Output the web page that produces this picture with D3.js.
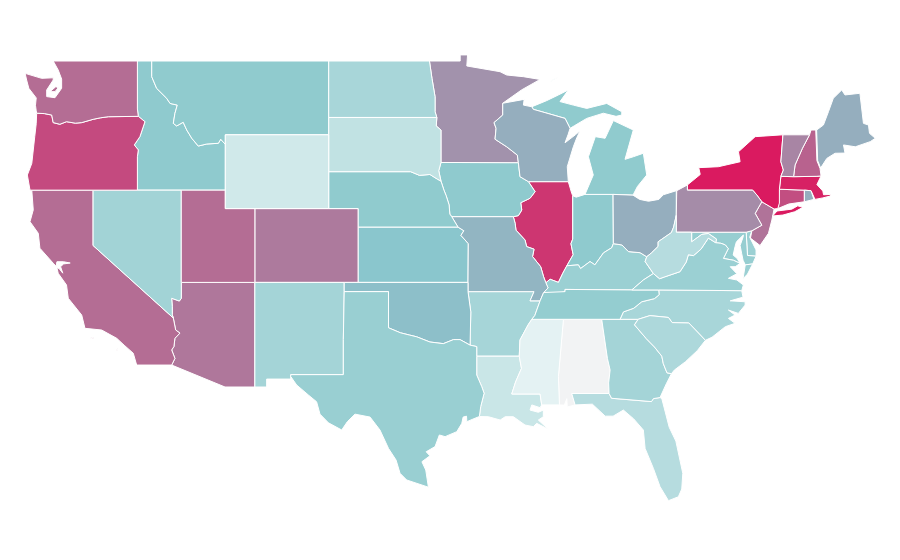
<!DOCTYPE html>
<html>
<head>
<meta charset="utf-8">
<title>US states</title>
<script src="https://cdn.jsdelivr.net/npm/d3@7"></script>
<style>
  html, body { margin: 0; padding: 0; background: #fff; }
  svg { display: block; }
  .state { stroke: #fff; stroke-width: 1; stroke-linejoin: round; }
</style>
</head>
<body>
<svg id="map" width="900" height="560"></svg>
<script>
// values, same order in both arrays
var stateNames = ['AL','AZ','AR','CA','CO','CT','DE','FL','GA','ID','IL','IN','IA','KS','KY','LA','ME','MD','MA','MI','MN','MS','MO','MT','NE','NV','NH','NJ','NM','NY','NC','ND','OH','OK','OR','PA','RI','SC','SD','TN','TX','UT','VT','VA','WA','WV','WI','WY'];
var stateValues = [0,73,36,76,72,85,41,29,37,47,92,47,47,50,41,20,57,43,98,46,65,8,55,46,46,38,79,74,37,100,35,35,57,52,86,67,57,33,24,44,42,76,69,41,76,29,57,17];

var colorStops = [0, 8, 46, 50, 100];
var colorRange = ['#f2f3f4', '#e4f2f3', '#90cbce', '#8ac6cd', '#da1a60'];

// shared borders, lon/lat
var columbia = [[-123.82,46.17],[-123.3,46.15],[-122.8,46.07],[-122.7,45.66],[-122.25,45.57],[-121.8,45.71],[-121.2,45.63],[-120.77,45.66],[-119.99,45.84],[-119.5,45.92],[-118.97,45.98],[-116.94,46.0]];
var snake = [[-116.94,46.0],[-116.49,45.71],[-116.83,44.9],[-117.21,44.45],[-116.94,44.18],[-117.0,43.81],[-117.0,42.0]];
var idMt = [[-116.03,49],[-116.03,48.15],[-115.7,47.52],[-115.02,46.98],[-114.79,46.7],[-114.3,46.61],[-114.46,46.16],[-114.57,45.62],[-114.34,45.48],[-113.9,45.68],[-113.66,45.26],[-113.32,44.81],[-112.88,44.39],[-112.31,44.5],[-111.52,44.54],[-111.36,44.76],[-111.05,44.48]];
var nvAz = [[-114.03,37],[-114.03,36.14],[-114.16,35.99],[-114.68,36.14],[-114.64,35.7],[-114.64,35.25],[-114.57,35.07]];
var caAz = [[-114.57,35.07],[-114.41,34.42],[-114.12,34.25],[-114.46,33.97],[-114.53,33.52],[-114.68,33.34],[-114.46,32.88],[-114.68,32.52]];
var redRiver = [[-100,34.54],[-99.2,34.27],[-98.6,34.15],[-98.09,34.05],[-97.2,33.77],[-96.29,33.68],[-95.6,33.9],[-95.16,33.9],[-94.48,33.6],[-94.03,33.52]];
var sabine = [[-94.03,33],[-94.03,31.98],[-93.69,31.35],[-93.53,30.99],[-93.76,30.27],[-93.85,29.73]];
var neIa = [[-96.45,43.5],[-96.6,43.05],[-96.45,42.49],[-96.25,42.0],[-96.1,41.7],[-95.9,41.2],[-95.85,40.7],[-95.72,40.56]];
var sdNe = [[-96.45,42.49],[-96.7,42.6],[-97.2,42.85],[-97.9,42.8],[-98.5,43],[-104.05,43]];
var ksMo = [[-95.72,40.56],[-95.3,40],[-94.9,39.8],[-95.1,39.55],[-94.6,39.1],[-94.62,37]];
var iaIl = [[-90.53,42.46],[-90.08,41.92],[-90.42,41.56],[-91.05,41.32],[-90.98,40.92],[-91.21,40.62],[-91.55,40.56]];
var moIl = [[-91.55,40.56],[-91.43,40.2],[-91.37,39.83],[-90.76,39.3],[-90.65,38.94],[-90.15,38.8],[-90.25,38.4],[-89.7,37.85],[-89.5,37.3],[-89.35,36.98]];
var wiMn = [[-92.27,46.71],[-92.27,46.07],[-92.86,45.66],[-92.72,45.35],[-92.79,44.76],[-92.0,44.35],[-91.28,43.9],[-91.21,43.49]];
var wiIa = [[-91.21,43.49],[-91.1,42.73],[-90.53,42.46]];
var wiMi = [[-90.3,46.52],[-90.2,46.38],[-89.4,46.2],[-88.05,45.89],[-87.71,45.35]];
var ohioIL = [[-89.35,36.98],[-89.06,37.17],[-88.5,37],[-88.2,37.5],[-87.93,37.9]];
var wabash = [[-87.93,37.9],[-87.5,38.5],[-87.65,39.1],[-87.53,39.35],[-87.53,41.7]];
var ohioIN = [[-87.93,37.9],[-87.15,37.95],[-87,37.75],[-86.36,38.13],[-86.03,37.95],[-85.45,38.6],[-84.89,38.88],[-84.78,39.1]];
var ohioOH = [[-84.78,39.1],[-84.2,39.03],[-83.76,38.67],[-82.97,38.61],[-82.52,38.39]];
var ohioWV = [[-82.52,38.39],[-82.2,38.6],[-81.75,38.95],[-81.75,39.2],[-80.85,39.7],[-80.7,40.0],[-80.52,40.64]];
var kyWv = [[-82.52,38.39],[-82.63,38.13],[-82.07,37.48]];
var kyVa = [[-82.07,37.48],[-82.75,37.13],[-83.53,36.59]];
var tnNc = [[-81.71,36.59],[-81.68,36.33],[-82.0,36.12],[-82.86,35.95],[-83.4,35.6],[-84.1,35.4],[-84.33,35]];
var scGa = [[-83.1,35],[-83.35,34.7],[-82.55,33.95],[-82,33.5],[-81.5,33],[-81.4,32.6],[-81.15,32.1],[-80.85,32.05]];
var ncSc = [[-83.1,35],[-82.3,35.2],[-81.05,35.1],[-80.8,34.82],[-79.67,34.8],[-78.55,33.86]];
var alGa = [[-85.57,35],[-85.18,32.87],[-85,32.25],[-85.1,31.55],[-85.07,30.98]];
var alMs = [[-88.16,35],[-88.5,31.9],[-88.43,30.36]];
var msAr = [[-90.3,35],[-90.55,34.7],[-91.1,33.88],[-91.15,33]];
var msLa = [[-91.15,33],[-91,32.34],[-91.4,31.6],[-91.66,30.95],[-89.74,30.95],[-89.63,30.36]];
var gaFl = [[-85.07,30.98],[-84.9,30.72],[-82.2,30.54],[-82.07,30.7],[-81.62,30.76]];
var vaWv = [[-82.07,37.48],[-81.65,37.2],[-81.3,37.3],[-80.27,37.58],[-79.85,38.1],[-79.7,38.5],[-79.36,38.45],[-78.85,38.8],[-78.35,39.4],[-77.85,39.15]];
var mdWv = [[-79.48,39.72],[-79.48,39.2],[-78.8,39.6],[-78.35,39.65],[-77.8,39.35],[-77.85,39.15]];
var mdVa = [[-77.85,39.15],[-77.5,39.12],[-77.2,39.03],[-77,38.83],[-77.33,38.3],[-76.65,38.2],[-76.2,38.03]];
var paNy = [[-79.77,42.28],[-79.77,42],[-75.35,42],[-75.07,41.74],[-74.73,41.37]];
var paNj = [[-74.73,41.37],[-75.18,40.74],[-74.73,40.1],[-75.4,39.8]];
var vtNh = [[-71.5,45],[-71.98,44.27],[-72.48,43.36],[-72.58,42.73]];
var nyVt = [[-73.3,45],[-73.44,43.54],[-73.27,43.09],[-73.44,42.75]];
var nyMaCt = [[-73.44,42.75],[-73.54,42.05],[-73.54,41.3],[-73.65,41.0]];

function rev(a) { return a.slice().reverse(); }

var stateRings = {
  WA: [[[-122.7,49],[-117.0,49],[-117.0,46.4]].concat(rev(columbia), [[-123.85,46.3],[-123.9,46.6],[-123.85,47.0],[-124.35,47.52],[-124.5,47.97],[-124.6,48.33],[-123.48,48.06],[-122.7,48.09],[-122.7,47.97],[-123.14,47.43],[-123.14,47.07],[-122.58,47.01],[-122.13,47.52],[-122.13,48.02],[-122.36,48.51]]),
       [[-122.92,47.34],[-122.52,47.61],[-122.36,47.55],[-122.58,47.34]]],
  OR: [columbia.concat(snake, [[-124.27,42],[-124.45,42.82],[-124.15,43.45],[-123.95,44.9],[-123.85,45.6]])],
  ID: [[[-117,49]].concat(idMt, [[-111.05,42],[-117,42]], rev(snake), [[-117,46.4]])],
  MT: [idMt.concat([[-111.05,45],[-104.05,45],[-104.05,49]])],
  WY: [[[-111.05,45],[-104.05,45],[-104.05,41],[-111.05,41]]],
  ND: [[[-104.05,49],[-97.23,49],[-97.06,48.06],[-96.85,47.06],[-96.85,46.25],[-96.73,45.94],[-104.05,45.94]]],
  SD: [[[-104.05,45.94],[-96.73,45.94],[-96.77,45.48],[-96.45,45.26]].concat(neIa.slice(0,3), sdNe)],
  NE: [sdNe.concat([[-104.05,41],[-102.05,41],[-102.05,40],[-95.3,40]], rev(neIa.slice(2)))],
  KS: [[[-102.05,40]].concat(ksMo.slice(1), [[-102.05,37]])],
  CO: [[[-109.05,41],[-102.05,41],[-102.05,37],[-109.05,37]]],
  UT: [[[-114.03,42],[-111.05,42],[-111.05,41],[-109.05,41],[-109.05,37],[-114.03,37]]],
  NV: [[[-120,42],[-114.03,42]].concat(nvAz, [[-120,39]])],
  CA: [[[-124.15,42],[-120,42],[-120,39]].concat(caAz, [[-117.05,32.52],[-117.28,33.16],[-117.9,33.6],[-118.4,33.97],[-119.42,34.42],[-120.55,34.51],[-120.77,35.23],[-121.68,36.14],[-121.8,36.86],[-122.36,37.49],[-122.45,37.8],[-122.3,37.75],[-122.05,37.5],[-122.2,37.85],[-122,38.0],[-121.55,38.05],[-122,38.12],[-122.45,38.12],[-122.5,37.87],[-122.7,38.04],[-123.6,38.85],[-123.71,39.66],[-124.27,40.29],[-124.05,40.93]]),
       [[-120.2,33.98],[-119.98,34.02],[-120,33.94]],
       [[-118.45,33.35],[-118.32,33.3],[-118.36,33.4]]],
  AZ: [[[-109.05,37]].concat(nvAz, caAz.slice(1), [[-111.07,31.33],[-109.05,31.33]])],
  NM: [[[-109.05,37],[-103,37],[-103,36.5],[-103.06,33.9],[-103.06,32],[-106.62,32],[-106.62,31.76],[-108.25,31.76],[-108.25,31.33],[-109.05,31.33]]],
  TX: [[[-103,36.5],[-100,36.5]].concat(redRiver, sabine, [[-94.14,29.64],[-94.7,29.45],[-94.72,29.75],[-94.95,29.7],[-95.04,29.36],[-95.38,28.91],[-96.17,28.64],[-96.56,28.73],[-96.85,28.1],[-97.45,27.82],[-97.2,27.6],[-97.74,27.28],[-97.48,26.83],[-97.3,25.9],[-98.77,26.29],[-99.22,26.65],[-99.49,27.37],[-100,28],[-100.58,29],[-101.25,29.7],[-102.27,29.86],[-102.79,29.45],[-103.17,29],[-104.07,29.39],[-104.64,29.86],[-104.87,30.53],[-105.43,30.9],[-106.22,31.44],[-106.62,31.9],[-106.62,32],[-103.06,32],[-103.06,33.9]])],
  OK: [[[-103,37],[-94.62,37],[-94.62,36.5],[-94.43,35.4],[-94.48,33.6]].concat(rev(redRiver.slice(0,9)), [[-100,36.5],[-103,36.5]])],
  IA: [neIa.concat(rev(iaIl), rev(wiIa))],
  MO: [ksMo.concat([[-94.62,36.5],[-90.15,36.5],[-90.42,36],[-89.74,36],[-89.5,36.45],[-89.2,36.7]], rev(moIl))],
  AR: [[[-94.62,36.5],[-90.15,36.5],[-90.42,36],[-89.74,36],[-90.1,35.2]].concat(msAr, [[-94.03,33],[-94.03,33.52],[-94.48,33.6],[-94.43,35.4]])],
  LA: [[[-94.03,33]].concat(msLa, [[-89.74,30.21],[-90.3,30.36],[-90.42,30.08],[-89.86,29.96],[-89.52,30.08],[-89.52,29.72],[-89.86,29.54],[-89.18,29.04],[-89.97,29.36],[-90.2,29.18],[-90.76,29.27],[-91.55,29.72],[-92.1,29.72],[-92.44,29.54],[-93.24,29.72]], rev(sabine))],
  MN: [[[-97.23,49],[-95.15,49],[-95.15,49.33],[-94.65,49.33],[-94.7,48.73],[-92.45,48.42],[-92,48.24],[-90.87,48.15],[-89.74,48],[-91,47.43]].concat(wiMn, [[-96.45,43.5],[-96.45,45.26],[-96.77,45.48],[-96.73,45.94],[-96.85,46.25],[-96.85,47.06],[-97.06,48.06]])],
  WI: [wiMn.concat(wiIa, [[-87.83,42.46],[-87.9,43.27],[-87.49,44.35],[-87.25,44.85],[-87.03,45.22],[-87.35,45],[-88.05,44.57],[-87.85,45]], rev(wiMi), [[-90.87,46.61],[-90.82,46.92]])],
  IL: [iaIl.concat(moIl, ohioIL.slice(1), wabash.slice(1), [[-87.6,41.83],[-87.83,42.46]])],
  IN: [rev(ohioIN).concat(wabash.slice(1), [[-87.3,41.62],[-86.7,41.77],[-84.8,41.77]])],
  OH: [[[-84.8,41.77],[-83.45,41.73],[-83,41.5],[-82.4,41.4],[-81.7,41.5],[-81.4,41.75],[-80.52,41.97]].concat(rev(ohioWV), rev(ohioOH))],
  MI: [[[-86.7,41.77],[-84.8,41.77],[-83.45,41.73],[-83.15,42.2],[-82.52,42.82],[-82.75,44],[-83.43,43.81],[-83.99,43.67],[-83.43,45.26],[-84.78,45.77],[-85.34,44.81],[-86,44.9],[-86.47,43.81],[-86.14,42.82]],
       wiMi.concat([[-87.4,45.5],[-86.58,45.89],[-85.46,46.17],[-84.6,46.0],[-84.21,46.07],[-84.21,46.25],[-85.23,46.7],[-86.58,46.43],[-87.49,46.61],[-88.39,46.8],[-87.83,47.43],[-88.5,47.16],[-89.3,46.85]]),
       [[-89.1,47.85],[-88.5,48.15],[-88.85,48.0]]],
  KY: [[[-89.74,36.14],[-89.5,36.45]].concat([[-89.2,36.7]], ohioIL, ohioIN.slice(1), ohioOH.slice(1), kyWv.slice(1), kyVa.slice(1), [[-88.05,36.62],[-88.05,36.5]])],
  TN: [[[-90.3,35],[-90.1,35.2],[-89.74,36],[-89.5,36.45],[-88.05,36.5],[-88.05,36.62],[-83.53,36.59]].concat(tnNc)],
  WV: [[[-80.52,39.72]].concat(mdWv, rev(vaWv), rev(kyWv), ohioWV.slice(1))],
  VA: [[[-83.53,36.59]].concat(rev(kyVa).slice(1), vaWv.slice(1), mdVa.slice(1), [[-76.53,37.85],[-76.87,37.85],[-76.42,37.47],[-76.99,37.22],[-76.42,37.13],[-75.98,36.86],[-76.09,36.55],[-81.71,36.59]]),
       [[-76,37.2],[-75.85,37.95],[-75.35,38],[-75.7,37.45]]],
  NC: [[[-81.71,36.59],[-76.09,36.55],[-76,36.2],[-76.87,36],[-75.86,35.95],[-75.86,35.77],[-76.32,35.32],[-76.99,35.5],[-76.54,35.23],[-76.99,35.05],[-76.54,34.78],[-77.2,34.6],[-78.1,34.03]].concat(rev(ncSc), rev(tnNc))],
  SC: [ncSc.concat([[-79.1,33.3],[-79.9,32.7],[-80.65,32.25]], rev(scGa))],
  GA: [[[-85.57,35],[-83.1,35]].concat(scGa.slice(1), [[-81.2,31.5],[-81.62,30.76]], rev(gaFl), rev(alGa).slice(1))],
  AL: [[[-88.16,35]].concat(alGa, [[-87.6,30.98],[-87.37,30.36],[-87.9,30.25],[-87.93,30.7],[-88.1,30.35]], rev(alMs))],
  MS: [[[-90.3,35],[-88.16,35]].concat(alMs.slice(1), rev(msLa), rev(msAr).slice(1))],
  FL: [[[-87.6,30.98],[-85.07,30.98]].concat(gaFl.slice(1), [[-81.5,30.7],[-81,29.15],[-80.55,28.4],[-80.08,26.65],[-80.15,25.8],[-80.38,25.38],[-81.05,25.17],[-81.62,25.93],[-82.07,26.92],[-82.63,28],[-82.75,29],[-83.4,29.6],[-84.1,30.08],[-84.8,29.75],[-85.33,29.75],[-86.2,30.4],[-87.37,30.36]])],
  PA: [[[-80.49,41.97]].concat(paNy, paNj.slice(1), [[-75.79,39.72],[-80.52,39.72],[-80.52,40.64]])],
  NY: [paNy.concat([[-73.9,40.98],[-73.65,41.0]], rev(nyMaCt).slice(1), rev(nyVt).slice(1), [[-75.18,44.9],[-76.31,44.08],[-76.2,43.54],[-77.67,43.27],[-79,43.22],[-78.9,42.85]]),
       [[-74,40.6],[-73.7,40.87],[-72.7,40.97],[-72.3,41.15],[-71.95,41.07],[-72.5,40.83],[-73.3,40.65]]],
  NJ: [[[-74.73,41.37],[-73.9,40.98],[-74.05,40.38],[-74.28,39.66],[-74.85,39.0],[-75.5,39.4],[-75.4,39.8]].concat(rev(paNj).slice(1,3))],
  DE: [[[-75.79,39.72],[-75.4,39.8],[-75.55,39.45],[-75.12,38.76],[-75.12,38.42],[-75.7,38.46]]],
  MD: [mdWv.concat(mdVa.slice(1), [[-76.4,38.3],[-76.67,38.48],[-76.54,38.95],[-76.45,39.2],[-75.98,39.57],[-76,39.45],[-76.2,39],[-76.09,38.55],[-76,38.2],[-75.85,37.95],[-75.35,38],[-75.12,38.42],[-75.7,38.46],[-75.79,39.72]])],
  CT: [[[-73.54,42.05],[-71.85,42],[-71.85,41.37],[-72.9,41.25],[-73.65,41]]],
  RI: [[[-71.85,42],[-71.4,41.97],[-71.2,41.5],[-71.85,41.37]]],
  MA: [[[-73.44,42.75],[-72.58,42.73],[-71,42.75],[-70.72,42.77],[-71,42.3],[-70.6,41.95],[-70.55,41.75],[-70.06,41.77],[-70.1,41.68],[-70.6,41.58],[-71.13,41.5],[-71.4,41.97],[-71.85,42],[-73.54,42.05]]],
  VT: [nyVt.concat(rev(vtNh))],
  NH: [vtNh.concat([[-71,42.75],[-70.72,42.77],[-70.79,43.18],[-71,43.6],[-71.08,45.26],[-71.4,45.26]])],
  ME: [[[-71.02,45.26],[-70.56,45.53],[-70.22,46.25],[-69.89,46.98],[-69.32,47.43],[-69.1,47.16],[-68.09,47.25],[-67.85,45.62],[-67.51,45.53],[-67.44,45.08],[-67.05,44.81],[-67.39,44.63],[-68.4,44.35],[-69.2,44.45],[-69.1,44.01],[-69.77,44],[-70.33,43.72],[-70.75,43.2],[-70.95,43.6]]]
};

var x = d3.scaleLinear().domain([-111.05, -94.6]).range([225.3, 468.3]);
var y = d3.scaleLinear().domain([49, 32]).range([61, 374.65]);
var color = d3.scaleLinear().domain(colorStops).range(colorRange);

// the map is stretched plate carree, not a real projection
var flat = d3.geoTransform({
  point: function(lon, lat) { this.stream.point(x(lon), y(lat)); }
});
var path = d3.geoPath(flat);

var features = stateNames.map(function(name, i) {
  return {
    type: 'Feature',
    id: name,
    properties: { value: stateValues[i] },
    geometry: {
      type: 'MultiPolygon',
      coordinates: stateRings[name].map(function(r) { return [r.concat([r[0]])]; })
    }
  };
});

d3.select('#map').selectAll('path')
  .data(features)
  .enter().append('path')
  .attr('class', 'state')
  .attr('id', function(d) { return d.id; })
  .attr('d', path)
  .style('fill', function(d) { return color(d.properties.value); });
</script>
</body>
</html>
